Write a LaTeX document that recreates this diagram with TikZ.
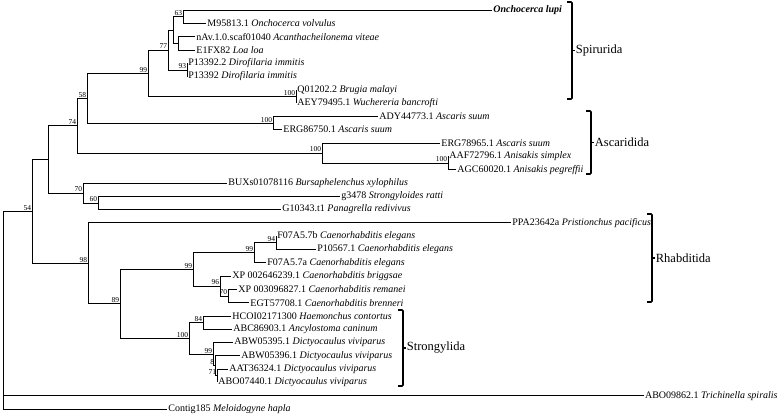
\documentclass[tikz,border=0pt]{standalone}
\usepackage{fontspec}
\setmainfont{Liberation Serif}

\begin{document}
\begin{tikzpicture}[x=1pt,y=-1pt,line width=0.8pt,
  leaf/.style={anchor=west,inner sep=1pt,font=\fontsize{10}{11}\selectfont},
  boot/.style={anchor=south east,inner sep=0.6pt,font=\fontsize{7.5}{8}\selectfont},
  clade/.style={anchor=west,inner sep=0.5pt,font=\fontsize{12.5}{13}\selectfont},
  brace/.style={line width=1.6pt,rounded corners=1pt}]
\useasboundingbox (0,0) rectangle (779,413);
% internal nodes
\coordinate (root) at (3,310);
\coordinate (n54) at (32,211.3);
\coordinate (nC) at (48,159.2);
\coordinate (n74) at (77,125.5);
\coordinate (n58) at (87,98.1);
\coordinate (n99) at (148,73.2);
\coordinate (n77) at (168,49.9);
\coordinate (nB) at (173,30);
\coordinate (n63) at (183,16.7);
\coordinate (nA) at (178,43.3);
\coordinate (n93) at (187,69.9);
\coordinate (n100a) at (296,96.5);
\coordinate (n100b) at (273,123.1);
\coordinate (n100c) at (322,153);
\coordinate (n100d) at (448,163);
\coordinate (n70) at (83,192.9);
\coordinate (n60) at (98,202.9);
\coordinate (n98) at (88,263.3);
\coordinate (n89) at (120,303.8);
\coordinate (n99b) at (193,269.3);
\coordinate (n99c) at (254,252.7);
\coordinate (n94) at (276,242.8);
\coordinate (n96) at (220,286);
\coordinate (n70b) at (228,296);
\coordinate (n100s) at (189,338.3);
\coordinate (n84) at (203,322.6);
\coordinate (n99s) at (213,354.1);
\coordinate (n8) at (215,365.8);
\coordinate (n71) at (217,375.8);
% taxa
\node[leaf] (lupi) at (492,10) {\textbf{\textit{Onchocerca lupi}}};
\node[leaf] (vol) at (206,23.3) {M95813.1 \textit{Onchocerca volvulus}};
\node[leaf] (vit) at (195,36.6) {nAv.1.0.scaf01040 \textit{Acanthacheilonema viteae}};
\node[leaf] (loa) at (195,49.9) {E1FX82 \textit{Loa loa}};
\node[leaf] (dim2) at (187,63.2) {P13392.2 \textit{Dirofilaria immitis}};
\node[leaf] (dim) at (187,76.5) {P13392 \textit{Dirofilaria immitis}};
\node[leaf] (bma) at (296,89.8) {Q01202.2 \textit{Brugia malayi}};
\node[leaf] (wba) at (296,103.1) {AEY79495.1 \textit{Wuchereria bancrofti}};
\node[leaf] (asu1) at (378,116.4) {ADY44773.1 \textit{Ascaris suum}};
\node[leaf] (asu2) at (282,129.7) {ERG86750.1 \textit{Ascaris suum}};
\node[leaf] (asu3) at (440,143) {ERG78965.1 \textit{Ascaris suum}};
\node[leaf] (asi) at (448,156.3) {AAF72796.1 \textit{Anisakis simplex}};
\node[leaf] (ape) at (456,169.6) {AGC60020.1 \textit{Anisakis pegreffii}};
\node[leaf] (bxy) at (227,182.9) {BUXs01078116 \textit{Bursaphelenchus xylophilus}};
\node[leaf] (sra) at (340,196.2) {g3478 \textit{Strongyloides ratti}};
\node[leaf] (pre) at (281,209.5) {G10343.t1 \textit{Panagrella redivivus}};
\node[leaf] (ppa) at (511,222.8) {PPA23642a \textit{Pristionchus pacificus}};
\node[leaf] (cel1) at (276,236.1) {F07A5.7b \textit{Caenorhabditis elegans}};
\node[leaf] (cel2) at (316,249.4) {P10567.1 \textit{Caenorhabditis elegans}};
\node[leaf] (cel3) at (266,262.7) {F07A5.7a \textit{Caenorhabditis elegans}};
\node[leaf] (cbr) at (231,276) {XP 002646239.1 \textit{Caenorhabditis briggsae}};
\node[leaf] (cre) at (237,289.3) {XP 003096827.1 \textit{Caenorhabditis remanei}};
\node[leaf] (cbn) at (249,302.6) {EGT57708.1 \textit{Caenorhabditis brenneri}};
\node[leaf] (hco) at (231,315.9) {HCOI02171300 \textit{Haemonchus contortus}};
\node[leaf] (aca) at (232,329.2) {ABC86903.1 \textit{Ancylostoma caninum}};
\node[leaf] (dvi1) at (233,342.5) {ABW05395.1 \textit{Dictyocaulus viviparus}};
\node[leaf] (dvi2) at (240,355.8) {ABW05396.1 \textit{Dictyocaulus viviparus}};
\node[leaf] (dvi3) at (228,369.1) {AAT36324.1 \textit{Dictyocaulus viviparus}};
\node[leaf] (dvi4) at (217,382.4) {ABO07440.1 \textit{Dictyocaulus viviparus}};
\node[leaf,anchor=east] (tsp) at (779,395.7) {ABO09862.1 \textit{Trichinella spiralis}};
\node[leaf] (mha) at (167,409) {Contig185 \textit{Meloidogyne hapla}};
% branches
\draw (root) |- (n54) (root) |- (tsp.west) (root) |- (mha.west)
  (n54) |- (nC) (n54) |- (n98)
  (nC) |- (n74) (nC) |- (n70)
  (n74) |- (n58) (n74) |- (n100c)
  (n58) |- (n99) (n58) |- (n100b)
  (n99) |- (n77) (n99) |- (n100a)
  (n77) |- (nB) (n77) |- (n93)
  (nB) |- (n63) (nB) |- (nA)
  (n63) |- (lupi.west) (n63) |- (vol.west)
  (nA) |- (vit.west) (nA) |- (loa.west)
  (n93) |- (dim2.west) (n93) |- (dim.west)
  (n100a) |- (bma.west) (n100a) |- (wba.west)
  (n100b) |- (asu1.west) (n100b) |- (asu2.west)
  (n100c) |- (asu3.west) (n100c) |- (n100d)
  (n100d) |- (asi.west) (n100d) |- (ape.west)
  (n70) |- (bxy.west) (n70) |- (n60)
  (n60) |- (sra.west) (n60) |- (pre.west)
  (n98) |- (ppa.west) (n98) |- (n89)
  (n89) |- (n99b) (n89) |- (n100s)
  (n99b) |- (n99c) (n99b) |- (n96)
  (n99c) |- (n94) (n99c) |- (cel3.west)
  (n94) |- (cel1.west) (n94) |- (cel2.west)
  (n96) |- (cbr.west) (n96) |- (n70b)
  (n70b) |- (cre.west) (n70b) |- (cbn.west)
  (n100s) |- (n84) (n100s) |- (n99s)
  (n84) |- (hco.west) (n84) |- (aca.west)
  (n99s) |- (dvi1.west) (n99s) |- (n8)
  (n8) |- (dvi2.west) (n8) |- (n71)
  (n71) |- (dvi3.west) (n71) |- (dvi4.west);
% bootstrap values
\node[boot] (b54) at (n54) {54};
\node[boot] (b74) at (n74) {74};
\node[boot] (b58) at (n58) {58};
\node[boot] (b99) at (n99) {99};
\node[boot] (b77) at (n77) {77};
\node[boot] (b63) at (n63) {63};
\node[boot] (b93) at (n93) {93};
\node[boot] (b100a) at (n100a) {100};
\node[boot] (b100b) at (n100b) {100};
\node[boot] (b100c) at (n100c) {100};
\node[boot] (b100d) at (n100d) {100};
\node[boot] (b70) at (n70) {70};
\node[boot] (b60) at (n60) {60};
\node[boot] (b98) at (n98) {98};
\node[boot] (b89) at (n89) {89};
\node[boot] (b99b) at (n99b) {99};
\node[boot] (b99c) at (n99c) {99};
\node[boot] (b94) at (n94) {94};
\node[boot] (b96) at (n96) {96};
\node[boot] (b70b) at (n70b) {70};
\node[boot] (b100s) at (n100s) {100};
\node[boot] (b84) at (n84) {84};
\node[boot] (b99s) at (n99s) {99};
\node[boot] (b8) at (n8) {8};
\node[boot] (b71) at (n71) {71};
% clade brackets
\draw[brace] (567,2) -- (572,2) -- (572,99) -- (567,99);
\draw[line width=1.6pt] (572,50.5) -- (575,50.5);
\node[clade] (spi) at (575,50.5) {Spirurida};
\draw[brace] (586,111) -- (591,111) -- (591,174) -- (586,174);
\draw[line width=1.6pt] (591,142.5) -- (594,142.5);
\node[clade] (asc) at (594,142.5) {Ascaridida};
\draw[brace] (647,214) -- (652,214) -- (652,302) -- (647,302);
\draw[line width=1.6pt] (652,258) -- (655,258);
\node[clade] (rha) at (655,258) {Rhabditida};
\draw[brace] (398,310) -- (403,310) -- (403,386) -- (398,386);
\draw[line width=1.6pt] (403,348) -- (406,348);
\node[clade] (str) at (406,348) {Strongylida};
\end{tikzpicture}
\end{document}
